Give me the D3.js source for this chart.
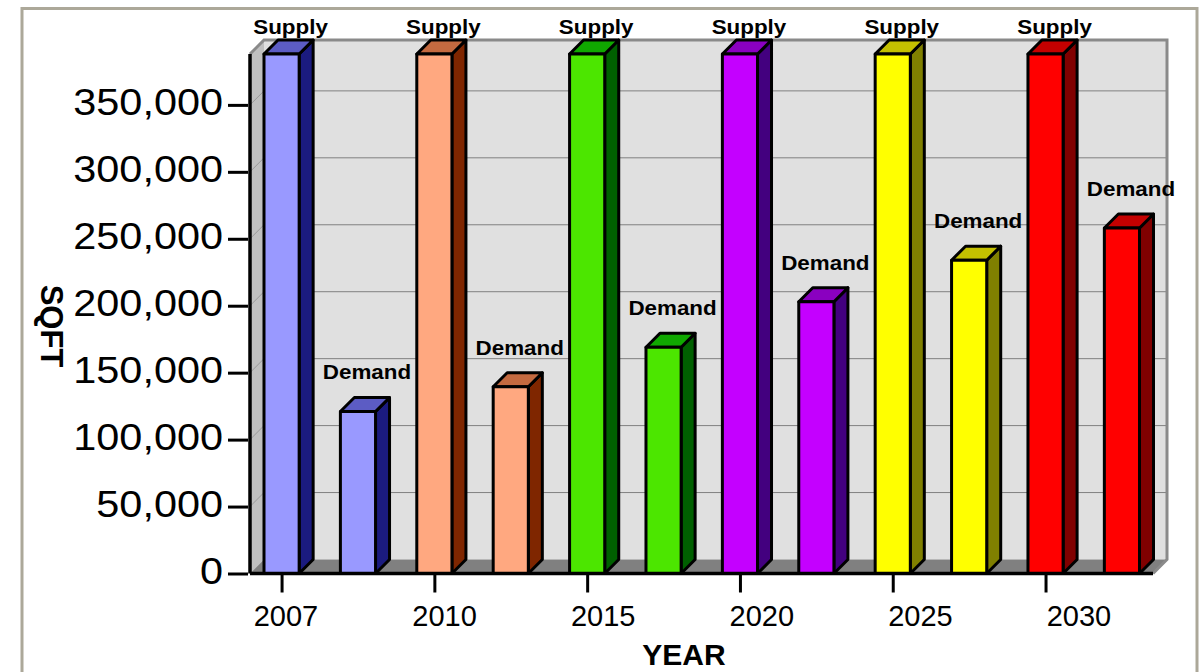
<!DOCTYPE html>
<html>
<head>
<meta charset="utf-8">
<script src="https://cdn.jsdelivr.net/npm/d3@7"></script>
<style>
  html, body { margin: 0; padding: 0; background: #fff; }
  svg { display: block; font-family: "Liberation Sans", Arial, sans-serif; }
</style>
</head>
<body>
<svg id="chart" width="1199" height="672"></svg>
<script>
// values
const years = ['2007', '2010', '2015', '2020', '2025', '2030']
const supply = [388000, 388000, 388000, 388000, 388000, 388000]
const demand = [121000, 139500, 169000, 203000, 234000, 258000]
const seriesNames = ['Supply', 'Demand']
const yTicks = [0, 50000, 100000, 150000, 200000, 250000, 300000, 350000]

// one colour family per year: front, side, top
const frontColors = ['#9999ff', '#ffa880', '#4ce600', '#c400ff', '#ffff00', '#ff0000']
const sideColors = ['#1b1b7f', '#7f2600', '#006000', '#43007f', '#808000', '#800000']
const topColors = ['#5c5cc4', '#c46a40', '#10a800', '#8a00c0', '#c4c000', '#c40000']

const svg = d3.select('#chart')

const depth = 14
const plotLeft = 250, plotRight = 1153
const plotBottom = 573.5, plotTop = 54
const stretch = 1.12

const bars = years.flatMap((yr, i) => [
  { id: yr + seriesNames[0], year: yr, name: seriesNames[0], value: supply[i], c: i },
  { id: yr + seriesNames[1], year: yr, name: seriesNames[1], value: demand[i], c: i }
])

const yScale = d3.scaleLinear()
  .domain([0, d3.max(bars, d => d.value)])
  .range([plotBottom, plotTop])

const xScale = d3.scaleBand()
  .domain(bars.map(d => d.id))
  .range([plotLeft + depth, 1139.5])
  .paddingInner(0.54)
  .paddingOuter(0)

// year labels sit on their own spread below the ticks
const labelScale = d3.scalePoint()
  .domain(years)
  .range([286, 1079])

// outer frame
svg.append('rect')
  .attr('x', 22).attr('y', 8.5)
  .attr('width', 1175).attr('height', 700)
  .attr('fill', 'none')
  .attr('stroke', '#aca899')
  .attr('stroke-width', 3)

// walls and floor
svg.append('rect')
  .attr('x', plotLeft + depth).attr('y', plotTop - depth)
  .attr('width', plotRight - plotLeft).attr('height', plotBottom - plotTop)
  .attr('fill', '#e0e0e0')

svg.append('polygon')
  .attr('points', [[plotLeft, plotTop], [plotLeft + depth, plotTop - depth],
    [plotLeft + depth, plotBottom - depth], [plotLeft, plotBottom]].join(' '))
  .attr('fill', '#c0c0c0')

svg.append('polygon')
  .attr('points', [[plotLeft, plotBottom], [plotLeft + depth, plotBottom - depth],
    [plotRight + depth, plotBottom - depth], [plotRight, plotBottom]].join(' '))
  .attr('fill', '#808080')

// grid lines on the back wall and the left wall
const grid = svg.append('g').attr('class', 'grid')
grid.selectAll('.back')
  .data(yTicks.filter(t => t > 0))
  .join('line')
  .attr('class', 'back')
  .attr('x1', plotLeft + depth).attr('x2', plotRight + depth)
  .attr('y1', d => yScale(d) - depth).attr('y2', d => yScale(d) - depth)
  .attr('stroke', '#808080')
  .attr('stroke-width', 1)
grid.selectAll('.side')
  .data(yTicks.filter(t => t > 0))
  .join('line')
  .attr('class', 'side')
  .attr('x1', plotLeft).attr('x2', plotLeft + depth)
  .attr('y1', d => yScale(d)).attr('y2', d => yScale(d) - depth)
  .attr('stroke', '#999')
  .attr('stroke-width', 1)

svg.append('polyline')
  .attr('points', [[plotLeft, plotTop], [plotLeft + depth, plotTop - depth], [plotRight + depth, plotTop - depth],
    [plotRight + depth, plotBottom - depth], [plotRight, plotBottom]].join(' '))
  .attr('fill', 'none')
  .attr('stroke', '#8a8a8a')
  .attr('stroke-width', 3)

// 3d bars: front, side, top
const w = xScale.bandwidth()
const barG = svg.selectAll('.bar')
  .data(bars)
  .join('g')
  .attr('class', 'bar')
  .attr('stroke', '#000')
  .attr('stroke-width', 3)
  .attr('stroke-linejoin', 'round')

barG.append('polygon')
  .attr('fill', d => sideColors[d.c])
  .attr('points', d => {
    const x1 = xScale(d.id) + w, yt = yScale(d.value)
    return [[x1, yt], [x1 + depth, yt - depth], [x1 + depth, plotBottom - depth], [x1, plotBottom]].join(' ')
  })

barG.append('polygon')
  .attr('fill', d => topColors[d.c])
  .attr('points', d => {
    const x0 = xScale(d.id), yt = yScale(d.value)
    return [[x0, yt], [x0 + depth, yt - depth], [x0 + w + depth, yt - depth], [x0 + w, yt]].join(' ')
  })

barG.append('rect')
  .attr('fill', d => frontColors[d.c])
  .attr('x', d => xScale(d.id))
  .attr('y', d => yScale(d.value))
  .attr('width', w)
  .attr('height', d => plotBottom - yScale(d.value))

// bar labels
svg.selectAll('.barLabel')
  .data(bars)
  .join('text')
  .attr('class', 'barLabel')
  .attr('transform', d => {
    const tx = xScale(d.id) + w / 2 + 9
    const ty = Math.max(yScale(d.value) - depth - 18, 34)
    return `translate(${tx},${ty}) scale(${stretch},1)`
  })
  .attr('text-anchor', 'middle')
  .attr('font-size', 20)
  .attr('font-weight', 'bold')
  .text(d => d.name)

// axis lines
svg.append('line')
  .attr('x1', plotLeft).attr('x2', plotLeft)
  .attr('y1', plotTop).attr('y2', plotBottom)
  .attr('stroke', '#000').attr('stroke-width', 3.5)
svg.append('line')
  .attr('x1', plotLeft).attr('x2', plotRight)
  .attr('y1', plotBottom).attr('y2', plotBottom)
  .attr('stroke', '#000').attr('stroke-width', 3.5)

// y axis
const yAxis = d3.axisLeft(yScale)
  .tickValues(yTicks)
  .tickSize(20)
  .tickPadding(0)
  .tickFormat(d3.format(','))

const yG = svg.append('g')
  .attr('transform', `translate(${plotLeft - 2},0)`)
  .call(yAxis)
yG.select('.domain').remove()
yG.selectAll('.tick line').attr('stroke', '#000').attr('stroke-width', 3)
yG.selectAll('.tick text')
  .attr('x', -25 / stretch)
  .attr('dy', 10)
  .attr('transform', `scale(${stretch},1)`)
  .attr('font-size', 37)
  .attr('font-family', '"Liberation Sans", Arial, sans-serif')
  .attr('fill', '#000')

// x axis ticks under the supply bars
const tickScale = d3.scaleOrdinal()
  .domain(years)
  .range(years.map(yr => xScale(yr + seriesNames[0]) + w / 2))

const xAxis = d3.axisBottom(tickScale)
  .tickSize(18)
  .tickFormat('')
const xG = svg.append('g')
  .attr('transform', `translate(0,${plotBottom + 1})`)
  .call(xAxis)
xG.select('.domain').remove()
xG.selectAll('.tick line').attr('stroke', '#000').attr('stroke-width', 3)

svg.selectAll('.yearLabel')
  .data(years)
  .join('text')
  .attr('class', 'yearLabel')
  .attr('x', d => labelScale(d))
  .attr('y', 626)
  .attr('text-anchor', 'middle')
  .attr('font-size', 29)
  .text(d => d)

// axis titles
svg.append('text')
  .attr('x', 684).attr('y', 665)
  .attr('text-anchor', 'middle')
  .attr('font-size', 30)
  .attr('font-weight', 'bold')
  .text('YEAR')

svg.append('text')
  .attr('transform', 'translate(41,326) rotate(90)')
  .attr('text-anchor', 'middle')
  .attr('font-size', 31)
  .attr('font-weight', 'bold')
  .text('SQFT')
</script>
</body>
</html>
